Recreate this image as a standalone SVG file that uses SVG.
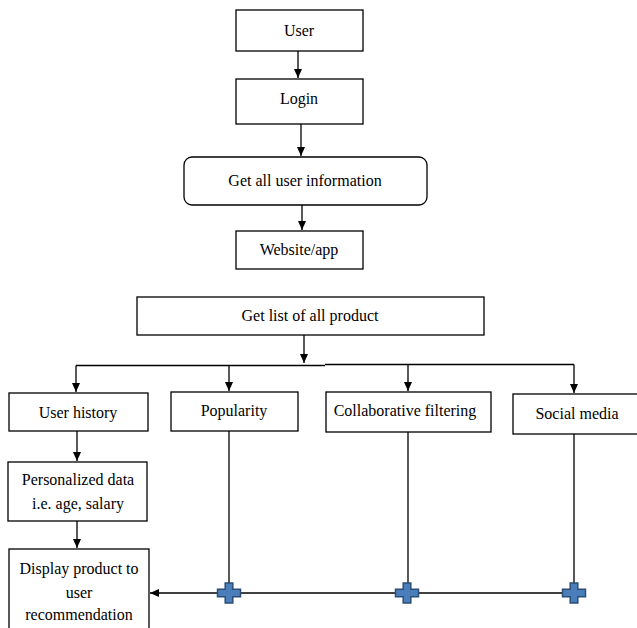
<svg xmlns="http://www.w3.org/2000/svg" width="637" height="628" viewBox="0 0 637 628">
<defs>
<style>
.box{fill:#fff;stroke:#000;stroke-width:1.3}
.t{font-family:"Liberation Serif","Times New Roman",serif;font-size:16px;fill:#000;text-anchor:middle}
.ln{fill:none;stroke:#000;stroke-width:1.3}
.plus{fill:#4a7ebb;stroke:#2c4d75;stroke-width:1.5}
</style>
<marker id="ah" markerWidth="10" markerHeight="10" refX="9" refY="5" orient="auto" markerUnits="userSpaceOnUse">
<path d="M0,1 L9,5 L0,9 Z" fill="#000"/>
</marker>
<path id="cross" d="M-3.8,-10 H3.8 V-3.8 H11.5 V3.8 H3.8 V10 H-3.8 V3.8 H-11.5 V-3.8 H-3.8 Z"/>
</defs>
<rect width="637" height="628" fill="#fff"/>
<g id="connectors">
<path class="ln" d="M298,51 V78" marker-end="url(#ah)"/>
<path class="ln" d="M301,124 V156" marker-end="url(#ah)"/>
<path class="ln" d="M302,205 V230" marker-end="url(#ah)"/>
<path class="ln" d="M304,335 V363" marker-end="url(#ah)"/>
<path class="ln" d="M76,365.5 H325 M325,364.5 H574"/>
<path class="ln" d="M76,365.5 V392" marker-end="url(#ah)"/>
<path class="ln" d="M229,365.5 V391" marker-end="url(#ah)"/>
<path class="ln" d="M408,364.5 V391" marker-end="url(#ah)"/>
<path class="ln" d="M574,364.5 V393" marker-end="url(#ah)"/>
<path class="ln" d="M77,431 V461" marker-end="url(#ah)"/>
<path class="ln" d="M77,521 V548" marker-end="url(#ah)"/>
<path class="ln" d="M229,431 V593 M408,432 V593 M574,434 V593"/>
<path class="ln" d="M574,593 H150" marker-end="url(#ah)"/>
<use href="#cross" class="plus" x="229" y="593"/>
<use href="#cross" class="plus" x="407" y="593"/>
<use href="#cross" class="plus" x="574" y="593"/>
</g>
<g id="n-user"><rect class="box" x="236" y="10" width="127" height="41"/><text class="t" x="299" y="36">User</text></g>
<g id="n-login"><rect class="box" x="236" y="79" width="127" height="45"/><text class="t" x="299" y="104">Login</text></g>
<g id="n-getinfo"><rect class="box" x="184" y="157" width="243" height="48" rx="8"/><text class="t" x="305" y="186">Get all user information</text></g>
<g id="n-website"><rect class="box" x="236" y="231" width="127" height="38"/><text class="t" x="299" y="255">Website/app</text></g>
<g id="n-list"><rect class="box" x="137" y="297" width="347" height="38"/><text class="t" x="310" y="321">Get list of all product</text></g>
<g id="n-history"><rect class="box" x="9" y="393" width="139" height="38"/><text class="t" x="78" y="418">User history</text></g>
<g id="n-popularity"><rect class="box" x="171" y="392" width="127" height="39"/><text class="t" x="234" y="416">Popularity</text></g>
<g id="n-collab"><rect class="box" x="326" y="392" width="165" height="40"/><text class="t" x="405" y="416">Collaborative filtering</text></g>
<g id="n-social"><rect class="box" x="513" y="394" width="126" height="40"/><text class="t" x="577" y="419">Social media</text></g>
<g id="n-personal"><rect class="box" x="8" y="462" width="139" height="59"/><text class="t" x="78" y="485">Personalized data</text><text class="t" x="78" y="509">i.e. age, salary</text></g>
<g id="n-display"><rect class="box" x="9" y="549" width="140" height="85"/><text class="t" x="79" y="574">Display product to</text><text class="t" x="79" y="598">user</text><text class="t" x="79" y="620">recommendation</text></g>
</svg>
